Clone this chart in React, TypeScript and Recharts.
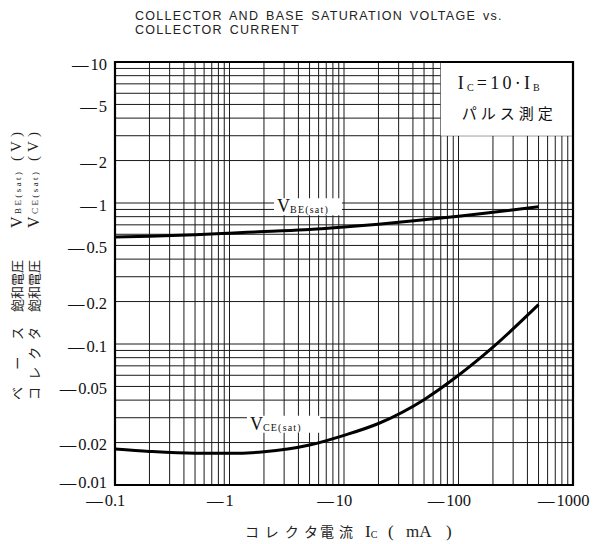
import React from 'react'
import { LineChart, Line, XAxis, YAxis, CartesianGrid, ReferenceArea } from 'recharts'

// collector current Ic (mA)
const currents = [0.1, 0.2, 0.5, 1, 2, 5, 10, 20, 50, 100, 200, 500]
// base saturation voltage VBE(sat) (V)
const vbeSat = [0.575, 0.582, 0.595, 0.61, 0.628, 0.649, 0.675, 0.708, 0.76, 0.805, 0.86, 0.94]
// collector saturation voltage VCE(sat) (V)
const vceSat = [0.018, 0.0173, 0.0168, 0.0168, 0.0172, 0.0192, 0.0225, 0.0273, 0.0403, 0.06, 0.095, 0.19]

const xLabels = [0.1, 1, 10, 100, 1000]
const yLabels = [10, 5, 2, 1, 0.5, 0.2, 0.1, 0.05, 0.02, 0.01]
const steps = [1, 2, 3, 4, 5, 6, 7, 8, 9]

const W = 593
const H = 544
const SERIF = '"Liberation Serif", "Times New Roman", serif'
const SANS = '"Liberation Sans", Arial, sans-serif'
const JP = '"Noto Sans CJK JP", sans-serif'

// minor grid positions for each decade
const gridTicks = (from: number, decades: number) => {
  const out: number[] = []
  for (let d = 0; d < decades; d++) {
    const base = from * Math.pow(10, d)
    steps.forEach((s) => out.push(+(base * s).toPrecision(3)))
  }
  out.push(+(from * Math.pow(10, decades)).toPrecision(3))
  return out
}
const xGrid = gridTicks(0.1, 4)
const yGrid = gridTicks(0.01, 3)

const XTick = ({ x, y, payload }: any) => {
  const v = payload.value
  if (!xLabels.some((l) => Math.abs(l - v) < 1e-9)) return <g />
  const s = String(v)
  const w = s.replace('.', '').length * 8.25 + (s.includes('.') ? 4 : 0)
  return (
    <g fontFamily={SERIF} fontSize={16.5} fill="#111">
      <text x={x} y={y + 21} textAnchor="middle">{s}</text>
      <text x={x - w / 2 - 2} y={y + 21} textAnchor="end">—</text>
    </g>
  )
}

const YTick = ({ x, y, payload }: any) => {
  const v = payload.value
  if (!yLabels.some((l) => Math.abs(l - v) < 1e-9)) return <g />
  const dy = v === 0.01 ? 3 : 7.5
  return (
    <text x={x - 8} y={y + dy} textAnchor="end" fontFamily={SERIF} fontSize={16.5} fill="#111">
      <tspan>—</tspan>
      <tspan dx={2}>{String(v)}</tspan>
    </text>
  )
}

const legendContent = ({ viewBox }: any) => {
  const { x, y } = viewBox
  return (
    <g fill="#111">
      <text x={x + 17} y={y + 27} fontFamily={SERIF} fontSize={18} textLength={82} lengthAdjust="spacing">
        I<tspan fontSize={10} dy={2}>C</tspan>
        <tspan dy={-2}>=10·I</tspan>
        <tspan fontSize={10} dy={2}>B</tspan>
      </text>
      <text x={x + 21} y={y + 57} fontFamily={JP} fontSize={15} textLength={91} lengthAdjust="spacing">
        パルス測定
      </text>
    </g>
  )
}

const curveLabel = (sub: string) => ({ viewBox }: any) => {
  const { x, y, height } = viewBox
  return (
    <text x={x + 3} y={y + height - 3} fontFamily={SERIF} fontSize={18} fill="#111">
      V<tspan fontSize={10} dy={1} letterSpacing={1.2}>{sub}</tspan>
    </text>
  )
}

const YTitleColumn = ({ cx, kana, sub }: { cx: number; kana: string; sub: string }) => (
  <g fill="#222">
    <text transform={`translate(${cx},400) rotate(-90)`} dominantBaseline="central" fontFamily={JP} fontSize={13} textLength={73} lengthAdjust="spacing">
      {kana}
    </text>
    <text transform={`translate(${cx},312) rotate(-90)`} dominantBaseline="central" fontFamily={JP} fontSize={13} textLength={52} lengthAdjust="spacing">
      飽和電圧
    </text>
    <text transform={`translate(${cx},228) rotate(-90)`} dominantBaseline="central" fontFamily={SERIF} fontSize={16} textLength={56} lengthAdjust="spacing">
      V<tspan fontSize={9} dy={2}>{sub}</tspan>
    </text>
    <text transform={`translate(${cx},161) rotate(-90)`} dominantBaseline="central" fontFamily={SERIF} fontSize={15} textLength={29} lengthAdjust="spacing">
      (V)
    </text>
  </g>
)

export default function App() {
  const data = currents.map((ic, i) => ({ ic, vbe: vbeSat[i], vce: vceSat[i] }))
  return (
    <div style={{ position: 'absolute', left: 0, top: 0, width: W, height: H, background: '#fff' }}>
      <LineChart width={W} height={H} data={data} margin={{ top: 62, right: 20, bottom: 0, left: 0 }}>
        <CartesianGrid stroke="#1a1a1a" strokeWidth={1} />
        <XAxis
          dataKey="ic"
          type="number"
          scale="log"
          domain={[0.1, 1000]}
          ticks={xGrid}
          interval={0}
          allowDataOverflow
          axisLine={false}
          tickLine={false}
          tickSize={0}
          tickMargin={0}
          height={59}
          tick={XTick}
        />
        <YAxis
          type="number"
          scale="log"
          domain={[0.01, 10]}
          ticks={yGrid}
          interval={0}
          allowDataOverflow
          axisLine={false}
          tickLine={false}
          tickSize={0}
          tickMargin={0}
          width={115}
          tick={YTick}
        />
        <ReferenceArea x1={70} x2={1000} y1={3} y2={10} fill="#fff" fillOpacity={1} stroke="none" label={{ content: legendContent }} />
        <ReferenceArea x1={2.45} x2={9.6} y1={0.82} y2={1.08} fill="#fff" fillOpacity={1} stroke="none" label={{ content: curveLabel('BE(sat)') }} />
        <ReferenceArea x1={1.42} x2={6.2} y1={0.0235} y2={0.031} fill="#fff" fillOpacity={1} stroke="none" label={{ content: curveLabel('CE(sat)') }} />
        <Line dataKey="vbe" type="monotone" stroke="#000" strokeWidth={3} dot={false} isAnimationActive={false} />
        <Line dataKey="vce" type="monotone" stroke="#000" strokeWidth={3} dot={false} isAnimationActive={false} />
        <ReferenceArea x1={0.1} x2={1000} y1={0.01} y2={10} fill="none" stroke="#000" strokeWidth={2.2} />
      </LineChart>
      <svg width={W} height={H} style={{ position: 'absolute', left: 0, top: 0, pointerEvents: 'none' }}>
        <g fontFamily={SANS} fontSize={12.5} fill="#222" letterSpacing={1.3} wordSpacing={2}>
          <text x={135} y={19.5}>COLLECTOR AND BASE SATURATION VOLTAGE vs.</text>
          <text x={135} y={33.5}>COLLECTOR CURRENT</text>
        </g>
        <YTitleColumn cx={16} kana="ベース" sub="BE(sat)" />
        <YTitleColumn cx={33} kana="コレクタ" sub="CE(sat)" />
        <g fill="#222">
          <text x={245} y={537} fontFamily={JP} fontSize={14} textLength={73} lengthAdjust="spacing">コレクタ</text>
          <text x={320} y={537} fontFamily={JP} fontSize={14} textLength={33} lengthAdjust="spacing">電流</text>
          <text x={365} y={537} fontFamily={SERIF} fontSize={17}>
            I<tspan fontSize={10} dy={1}>C</tspan>
          </text>
          <text x={388} y={537} fontFamily={SERIF} fontSize={17}>(</text>
          <text x={406} y={537} fontFamily={SERIF} fontSize={17}>mA</text>
          <text x={446} y={537} fontFamily={SERIF} fontSize={17}>)</text>
        </g>
      </svg>
    </div>
  )
}
